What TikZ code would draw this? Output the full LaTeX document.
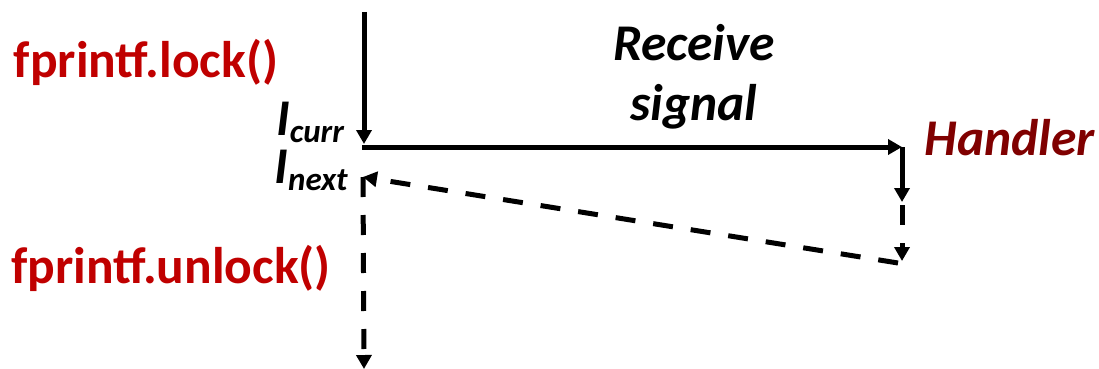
\documentclass[tikz,border=0pt]{standalone}
\usepackage{fontspec}
\setmainfont{Carlito}
\usetikzlibrary{arrows.meta}

\definecolor{lockred}{RGB}{192,0,0}
\definecolor{handlerred}{RGB}{128,0,0}

\tikzset{every picture/.style={line width=5pt}}
\tikzset{
  flow/.style={-{Triangle[length=14pt,width=15pt]}},
  dashflow/.style={flow, dash pattern=on 20pt off 18pt},
  bigtext/.style={inner sep=0pt, font=\fontsize{51.5}{60}\selectfont\bfseries},
  slanttext/.style={inner sep=0pt, font=\fontsize{51.5}{60}\selectfont\bfseries\itshape},
}
\newcommand{\instr}[1]{I\raisebox{-7pt}{\fontsize{33}{33}\selectfont #1}}

\begin{document}
\begin{tikzpicture}[x=1pt,y=1pt,yscale=-1,xscale=1]
	\useasboundingbox (0,0) rectangle (1099,369);
	
	%Points of the control flow
	\coordinate (top) at (364,12);
	\coordinate (curr) at (364,144);
	\coordinate (hstart) at (362,147);
	\coordinate (hnd) at (902,147);
	\coordinate (hmid) at (902,202);
	\coordinate (hdash) at (902,205);
	\coordinate (hbot) at (902,261);
	\coordinate (back) at (898,263);
	\coordinate (next) at (363,177);
	\coordinate (bot) at (364,369);
	
	%Straight Lines
	\draw [flow] (top) -- (curr);
	\draw [flow] (hstart) -- (hnd);
	\draw [flow] (hnd) -- (hmid);
	
	%Dashed Lines
	\draw [dashflow] (hdash) -- (hbot);
	\draw [dashflow] (back) -- (next);
	\draw [dashflow] (next) -- (bot);
	
	% Text Node
	\node [bigtext, text=lockred] (lock) at (146,62) {fprintf.lock()};
	% Text Node
	\node [bigtext, text=lockred] (unlock) at (171,268) {fprintf.unlock()};
	% Text Node
	\node [slanttext, align=center] (recv) at (694,77) {Receive\\signal};
	% Text Node
	\node [slanttext, text=handlerred] (handler) at (1010,138) {Handler};
	% Text Node
	\node [slanttext] (icurr) at (310,122) {\instr{curr}};
	% Text Node
	\node [slanttext] (inext) at (311,170) {\instr{next}};
	
\end{tikzpicture}
\end{document}
